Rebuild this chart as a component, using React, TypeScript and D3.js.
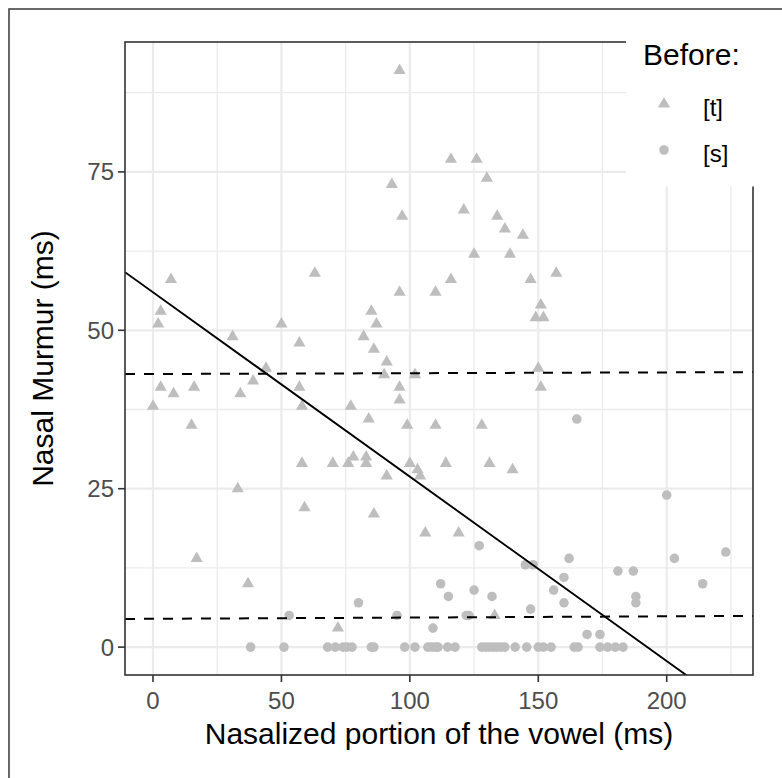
import React from "react";
import * as d3 from "d3";

// [t] tokens (triangles)
const tX = [0, 2, 3, 3, 7, 8, 15, 16, 17, 31, 33, 34, 37, 39, 44, 50, 57, 57, 58, 58, 59, 63, 70, 72, 76, 77, 78, 82, 83, 83, 84, 85, 86, 86, 87, 90, 91, 91, 93, 96, 96, 96, 96, 97, 99, 100, 102, 103, 104, 106, 110, 110, 114, 116, 116, 119, 121, 125, 126, 128, 130, 131, 133, 134, 137, 139, 140, 144, 147, 149, 150, 151, 151, 152, 157];
const tY = [38, 51, 53, 41, 58, 40, 35, 41, 14, 49, 25, 40, 10, 42, 44, 51, 48, 41, 38, 29, 22, 59, 29, 3, 29, 38, 30, 49, 30, 29, 36, 53, 21, 47, 51, 43, 45, 27, 73, 91, 56, 41, 39, 68, 35, 29, 43, 28, 27, 18, 56, 35, 29, 77, 58, 18, 69, 62, 77, 35, 74, 29, 5, 68, 66, 62, 28, 65, 58, 52, 44, 54, 41, 52, 59];

// [s] tokens (circles)
const sX = [53, 80, 95, 109, 112, 115, 122, 123, 125, 127, 132, 145, 147, 148, 156, 160, 160, 162, 165, 169, 174, 181, 187, 188, 188, 200, 203, 214, 223,
  38, 51, 68, 71, 74, 75.5, 77.5, 85, 86, 98, 102, 107, 108.5, 110, 111, 114.7, 117.6, 128, 129.5, 131, 132.5, 134, 135.5, 137, 141, 145.5, 150, 152, 155, 164, 165.5, 174, 177, 180, 183];
const sY = [5, 7, 5, 3, 10, 8, 5, 5, 9, 16, 8, 13, 6, 13, 9, 11, 7, 14, 36, 2, 2, 12, 12, 8, 7, 24, 14, 10, 15,
  0, 0, 0, 0, 0, 0, 0, 0, 0, 0, 0, 0, 0, 0, 0, 0, 0, 0, 0, 0, 0, 0, 0, 0, 0, 0, 0, 0, 0, 0, 0, 0, 0, 0, 0];

// fitted lines: [intercept, slope]
const solidLine = [56.0, -0.291];
const dashedLines = [[43.1, 0.0013], [4.47, 0.00195]];

const xTicks = [0, 50, 100, 150, 200];
const yTicks = [0, 25, 50, 75];
const xMinor = [-25, 25, 75, 125, 175, 225];
const yMinor = [12.5, 37.5, 62.5, 87.5];

const xDomain = [-10.9, 233.6];
const yDomain = [-4.4, 95.5];

export default function App() {
  const L = 125, R = 753, T = 42, B = 675;
  const x = d3.scaleLinear().domain(xDomain).range([L, R]);
  const y = d3.scaleLinear().domain(yDomain).range([B, T]);
  const grey = "#BEBEBE";
  const tri = d3.symbol().type(d3.symbolTriangle).size(64)() as string;
  const circ = d3.symbol().type(d3.symbolCircle).size(72)() as string;
  const font = "'Liberation Sans', Arial, sans-serif";
  const lineGen = (a: number, b: number) =>
    d3.line<number>().x((v) => x(v)).y((v) => y(a + b * v))([xDomain[0], xDomain[1]]) as string;

  return (
    <svg width={782} height={778} style={{ position: "absolute", left: 0, top: 0, background: "#fff" }} fontFamily={font}>
      <defs>
        <clipPath id="panel">
          <rect x={L} y={T} width={R - L} height={B - T} />
        </clipPath>
      </defs>
      <rect x={0} y={0} width={782} height={778} fill="#fff" />
      <rect x={9} y={9} width={800} height={800} fill="none" stroke="#444" strokeWidth={1.6} />
      {/* grid */}
      {xMinor.filter((v) => v > xDomain[0] && v < xDomain[1]).map((v) => (
        <line key={"xm" + v} x1={x(v)} x2={x(v)} y1={T} y2={B} stroke="#EBEBEB" strokeWidth={1.3} />
      ))}
      {yMinor.map((v) => (
        <line key={"ym" + v} x1={L} x2={R} y1={y(v)} y2={y(v)} stroke="#EBEBEB" strokeWidth={1.3} />
      ))}
      {xTicks.map((v) => (
        <line key={"xg" + v} x1={x(v)} x2={x(v)} y1={T} y2={B} stroke="#EBEBEB" strokeWidth={2.2} />
      ))}
      {yTicks.map((v) => (
        <line key={"yg" + v} x1={L} x2={R} y1={y(v)} y2={y(v)} stroke="#EBEBEB" strokeWidth={2.2} />
      ))}
      {/* points */}
      {tX.map((v, i) => (
        <path key={"t" + i} d={tri} transform={`translate(${x(v)},${y(tY[i])})`} fill={grey} />
      ))}
      {sX.map((v, i) => (
        <path key={"s" + i} d={circ} transform={`translate(${x(v)},${y(sY[i])})`} fill={grey} />
      ))}
      {/* lines */}
      <g clipPath="url(#panel)">
        <path d={lineGen(solidLine[0], solidLine[1])} stroke="#000" strokeWidth={1.9} fill="none" />
        {dashedLines.map((l, i) => (
          <path key={"d" + i} d={lineGen(l[0], l[1])} stroke="#000" strokeWidth={2} fill="none" strokeDasharray="10 9" />
        ))}
      </g>
      <rect x={L} y={T} width={R - L} height={B - T} fill="none" stroke="#333" strokeWidth={1.6} />
      {/* axes */}
      {xTicks.map((v) => (
        <g key={"xt" + v}>
          <line x1={x(v)} x2={x(v)} y1={B} y2={B + 7} stroke="#333" strokeWidth={1.6} />
          <text x={x(v)} y={709} textAnchor="middle" fontSize={24} fill="#4D4D4D">{v}</text>
        </g>
      ))}
      {yTicks.map((v) => (
        <g key={"yt" + v}>
          <line x1={L - 7} x2={L} y1={y(v)} y2={y(v)} stroke="#333" strokeWidth={1.6} />
          <text x={L - 11} y={y(v)} dy="0.35em" textAnchor="end" fontSize={24} fill="#4D4D4D">{v}</text>
        </g>
      ))}
      <text x={(L + R) / 2} y={744} textAnchor="middle" fontSize={30} fill="#000">Nasalized portion of the vowel (ms)</text>
      <text transform={`translate(53,${(T + B) / 2}) rotate(-90)`} textAnchor="middle" fontSize={30} fill="#000">Nasal Murmur (ms)</text>
      {/* legend */}
      <rect x={626} y={30} width={160} height={156.5} fill="#fff" />
      <text x={643} y={65} fontSize={30} fill="#000">Before:</text>
      <path d={tri} transform="translate(664,104)" fill={grey} />
      <path d={circ} transform="translate(664,150)" fill={grey} />
      <text x={703} y={116} fontSize={24} fill="#000">[t]</text>
      <text x={703} y={162} fontSize={24} fill="#000">[s]</text>
    </svg>
  );
}
